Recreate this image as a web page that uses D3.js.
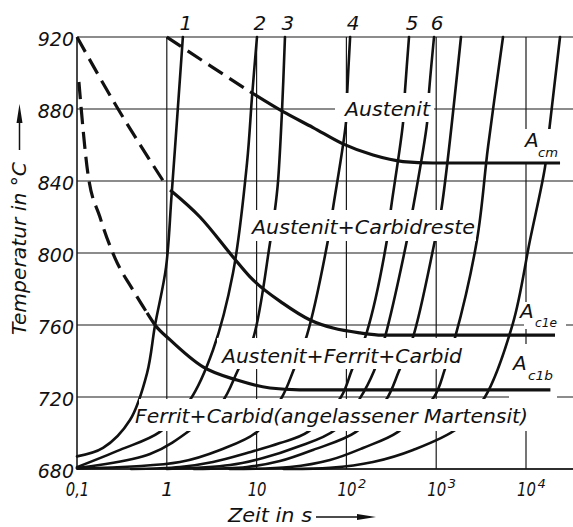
<!DOCTYPE html>
<html>
<head>
<meta charset="utf-8">
<script src="https://cdn.jsdelivr.net/npm/d3@7"></script>
<style>
  html, body { margin: 0; padding: 0; background: #fff; }
  svg { display: block; }
  text { font-family: "DejaVu Sans", sans-serif; font-style: italic; fill: #111; }
</style>
</head>
<body>
<svg id="chart" width="573" height="527"></svg>
<script>
// ---- axis ticks ----
const tempTicks = [680, 720, 760, 800, 840, 880, 920];
const timeTicks = [0.1, 1, 10, 100, 1000, 10000];
const timeTickBase = ["0,1", "1", "10", "10", "10", "10"];
const timeTickExp = ["", "", "", "2", "3", "4"];

// ---- heating curves: [time in s, temperature in °C] ----
const heat1 = [[0.1,687],[0.195,691.7],[0.389,707.2],[0.603,733.3],[0.74,760],[0.98,792],[1.13,832],[1.33,881],[1.51,920]];
const heat2 = [[0.1,681],[0.301,690.6],[0.839,700.6],[1.81,718.3],[3.27,746.1],[5.46,788.9],[7.82,850],[8.89,886.7],[10.1,920]];
const heat3 = [[0.1,680.5],[0.65,688.3],[1.96,702.8],[4.12,717.2],[6.21,735],[9.12,752.2],[14.1,805.6],[16.0,823.9],[17.3,839.4],[19.2,879.4],[20.7,920]];
const heat4 = [[0.1,680.3],[1.40,683.9],[3.91,690.6],[10.1,700.6],[19.2,720],[26.1,735.6],[36.4,754.4],[62.4,807.2],[71,825],[99.1,872.8],[102,888.9],[110,920]];
const heat5 = [[0.4,680],[1.40,681.1],[3.27,683.9],[7.82,688.9],[18.2,694.4],[37.3,700.6],[87.1,720],[115,735],[169,756.1],[283,807.2],[314,825],[427,872.2],[450,890.6],[498,920]];
const heat6 = [[1.0,680],[5.06,682.2],[11.8,686.1],[28.2,692.2],[74.6,701.7],[142,719.4],[203,734.4],[269,753.3],[473,807.2],[552,825],[791,872.2],[832,889.4],[946,920]];
const heat7 = [[2.0,680],[7.82,681.1],[18.2,684.4],[42.5,690.6],[128,700.6],[276,718.3],[385,734.4],[552,753.3],[971,807.2],[1130,822.8],[1888,920]];
const heat8 = [[5,680],[23.6,681.1],[65.6,685],[153,691.7],[376,700.6],[946,720],[1253,735.6],[1618,752.8],[2844,807.2],[3776,858.9],[5546,920]];
const heat9 = [[20,680],[65.6,680.6],[198,683.9],[552,690.6],[1750,702.8],[3491,720],[7161,761.1],[11090,807.2],[16290,847.8],[18030,867.2],[23930,920]];
const heatCurves = [heat1, heat2, heat3, heat4, heat5, heat6, heat7, heat8, heat9];
const heatLabels = ["1", "2", "3", "4", "5", "6"];

// ---- transformation boundaries ----
const acmDashed  = [[1.0,920],[3.27,903],[8.45,889.6]];
const acmSolid   = [[8.45,889.6],[19.7,878.5],[42.5,869.7],[91.6,860.6],[198,854.4],[427,850.8],[920,850],[23930,850]];
const ac1eDashed = [[0.1,920],[0.279,881],[0.93,839.4]];
const ac1eSolid  = [[1.09,835],[2.34,820],[5.46,797.8],[8.45,786.7],[19.7,772],[39.4,762.8],[71,758.3],[142,755.6],[250,754.4],[21040,754.4]];
const ac1bDashed = [[0.105,895],[0.132,844.4],[0.18,820],[0.265,797.2],[0.42,779.4],[0.603,766.7]];
const ac1bSolid  = [[0.603,766.7],[0.74,760],[1.09,751.7],[2.53,736.7],[6.05,729.4],[14.1,725],[30,724],[18700,724]];

// ---- labels ----
const regionNames = ["Austenit", "Austenit+Carbidreste", "Austenit+Ferrit+Carbid", "Ferrit+Carbid(angelassener Martensit)"];
const acNames = ["A", "A", "A"];
const acSubs = ["cm", "c1e", "c1b"];

// label placement (pixels): text start, baseline, width, and the blank-out box behind it
const regionLayout = [
  { x: 345, y: 116, w: 85,  box: [335, 93, 434, 122] },
  { x: 252, y: 234, w: 223, box: [246, 210, 476, 241] },
  { x: 222, y: 363, w: 240, box: [217, 338, 467, 369] },
  { x: 135, y: 423, w: 393, box: [139, 399, 530, 431] }
];
const acLayout = [
  { x: 525, y: 147, sx: 538, sy: 157, sw: 20, box: [521, 129, 561, 164] },
  { x: 520, y: 318, sx: 535, sy: 327, sw: 22, box: [524, 302, 566, 329] },
  { x: 513, y: 370, sx: 528, sy: 380, sw: 25, box: [509, 344, 557, 400] }
];

const svg = d3.select("#chart");
const W = 573;
const ink = "#111";

const x = d3.scaleLog().domain([0.1, 1e4]).range([77, 526]);
const y = d3.scaleLinear().domain([680, 920]).range([469, 37]);

// ---- grid ----
const gridH = svg.append("g").attr("stroke", "#1a1a1a").attr("stroke-width", 1.2);
gridH.selectAll("line").data(tempTicks).join("line")
  .attr("x1", x(0.1)).attr("x2", W)
  .attr("y1", d => y(d)).attr("y2", d => y(d));
const gridV = svg.append("g").attr("stroke", "#1a1a1a").attr("stroke-width", 1.2);
gridV.selectAll("line").data(timeTicks).join("line")
  .attr("x1", d => x(d)).attr("x2", d => x(d))
  .attr("y1", y(920)).attr("y2", y(680))
  .attr("stroke-width", d => d === 0.1 ? 1.6 : 1.2);
svg.append("line").attr("x1", x(0.1)).attr("x2", W).attr("y1", y(680)).attr("y2", y(680))
  .attr("stroke", ink).attr("stroke-width", 1.6);

// ---- heating curves ----
const heatLine = d3.line().x(d => x(d[0])).y(d => y(d[1])).curve(d3.curveCatmullRom.alpha(0.5));
svg.append("g").selectAll("path").data(heatCurves).join("path")
  .attr("d", heatLine)
  .attr("fill", "none").attr("stroke", ink).attr("stroke-width", 2.6)
  .attr("stroke-linecap", "round");

// ---- blank boxes behind the labels ----
const boxes = regionLayout.map(d => d.box).concat(acLayout.map(d => d.box));
svg.append("g").selectAll("rect").data(boxes).join("rect")
  .attr("x", d => d[0]).attr("y", d => d[1])
  .attr("width", d => d[2] - d[0]).attr("height", d => d[3] - d[1])
  .attr("fill", "#fff");

// ---- boundaries ----
const acLine = d3.line().x(d => x(d[0])).y(d => y(d[1])).curve(d3.curveMonotoneX);
const acG = svg.append("g").attr("fill", "none").attr("stroke", ink).attr("stroke-width", 3.2);
[acmSolid, ac1eSolid, ac1bSolid].forEach(c => acG.append("path").attr("d", acLine(c)));
[acmDashed, ac1eDashed, ac1bDashed].forEach(c => acG.append("path").attr("d", acLine(c))
  .attr("stroke-dasharray", "17,8"));

// ---- axes ----
const yAxis = svg.append("g").attr("transform", `translate(${x(0.1)},0)`)
  .call(d3.axisLeft(y).tickValues(tempTicks).tickSize(0).tickPadding(3).tickFormat(d3.format("d")));
yAxis.select(".domain").remove();
yAxis.attr("font-family", null).attr("font-size", null);
yAxis.selectAll("text").attr("dy", "0.45em").style("font-size", "19px");

const xAxis = svg.append("g").attr("transform", `translate(0,${y(680)})`)
  .call(d3.axisBottom(x).tickValues(timeTicks).tickSize(0).tickPadding(14)
    .tickFormat((d, i) => timeTickBase[i]));
xAxis.select(".domain").remove();
xAxis.attr("font-family", null).attr("font-size", null);
xAxis.selectAll(".tick text").style("font-size", "19px")
  .attr("transform", (d, i) => timeTickBase[i].length > 1 ? "scale(0.78,1)" : null);
// exponents of the powers of ten, raised to the right of the mantissa
xAxis.selectAll(".tick").each(function(d, i) {
  if (!timeTickExp[i]) return;
  d3.select(this).append("text")
    .attr("x", 11).attr("y", 19).attr("text-anchor", "start")
    .style("font-size", "13px").attr("fill", ink)
    .text(timeTickExp[i]);
});

// ---- curve numbers at the top ----
svg.append("g").selectAll("text").data(heatLabels).join("text")
  .attr("x", (d, i) => { const c = heatCurves[i]; return x(c[c.length - 1][0]) + 3; })
  .attr("y", 30)
  .attr("text-anchor", "middle")
  .style("font-size", "20px")
  .text(d => d);

// ---- region labels ----
svg.append("g").selectAll("text").data(regionNames).join("text")
  .attr("x", (d, i) => regionLayout[i].x)
  .attr("y", (d, i) => regionLayout[i].y)
  .attr("textLength", (d, i) => regionLayout[i].w)
  .attr("lengthAdjust", "spacingAndGlyphs")
  .style("font-size", "20px")
  .text(d => d);

// ---- boundary names ----
const acText = svg.append("g");
acNames.forEach((n, i) => {
  const L = acLayout[i];
  acText.append("text").attr("x", L.x).attr("y", L.y).style("font-size", "20px").text(n);
  acText.append("text").attr("x", L.sx).attr("y", L.sy)
    .attr("textLength", L.sw).attr("lengthAdjust", "spacingAndGlyphs")
    .style("font-size", "13px").text(acSubs[i]);
});

// ---- axis titles with arrows ----
svg.append("text")
  .attr("transform", "translate(26,335) rotate(-90)")
  .attr("textLength", 173).attr("lengthAdjust", "spacingAndGlyphs")
  .style("font-size", "20px")
  .text("Temperatur in °C");
svg.append("line").attr("x1", 19.5).attr("x2", 19.5).attr("y1", 150).attr("y2", 120)
  .attr("stroke", ink).attr("stroke-width", 1.5);
svg.append("path").attr("d", "M19.5,104 L16.5,123 L22.5,123 Z").attr("fill", ink);

svg.append("text")
  .attr("x", 228).attr("y", 522)
  .attr("textLength", 84).attr("lengthAdjust", "spacingAndGlyphs")
  .style("font-size", "20px")
  .text("Zeit in s");
svg.append("line").attr("x1", 316).attr("x2", 360).attr("y1", 517).attr("y2", 517)
  .attr("stroke", ink).attr("stroke-width", 1.5);
svg.append("path").attr("d", "M376,517 L357,514 L357,520 Z").attr("fill", ink);
</script>
</body>
</html>
